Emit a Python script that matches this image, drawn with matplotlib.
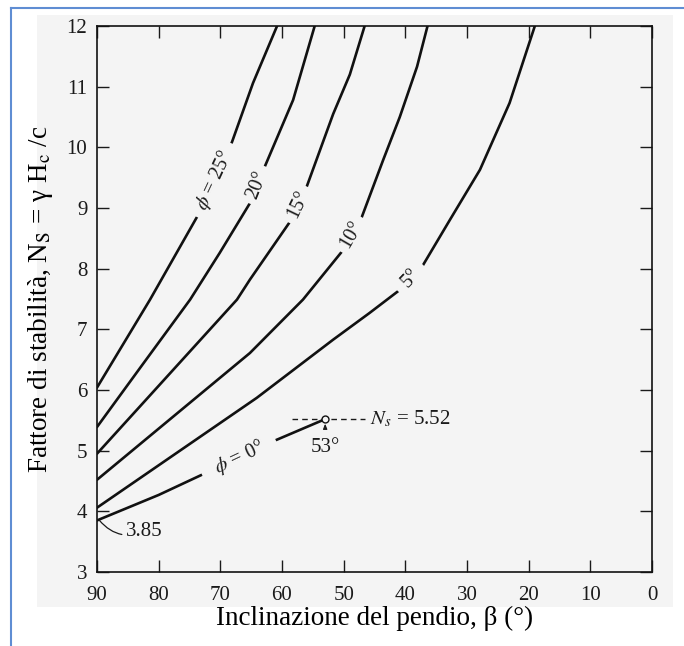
import numpy as np
import matplotlib
matplotlib.use('Agg')
import matplotlib.pyplot as plt
from matplotlib.patches import Rectangle
from matplotlib.lines import Line2D

plt.rcParams['font.family'] = ['Liberation Serif', 'DejaVu Serif']
plt.rcParams['mathtext.fontset'] = 'stix'

# inclinazione beta (gradi) e numero di stabilita' Ns per ogni angolo phi
beta_0 = [90, 80, 72, 62, 53]
ns_0 = [3.85, 4.27, 4.65, 5.13, 5.52]
beta_5 = [90, 64.1, 51.7, 45.8, 40.9, 37.3, 32.8, 27.9, 23.1, 19.0]
ns_5 = [4.06, 5.87, 6.83, 7.27, 7.65, 8.03, 8.80, 9.63, 10.73, 12.0]
beta_10 = [90, 65.2, 56.6, 50.3, 47.1, 43.6, 40.9, 38.1, 36.4]
ns_10 = [4.52, 6.61, 7.49, 8.28, 8.84, 9.79, 10.5, 11.33, 12.0]
beta_15 = [90, 67.3, 65.2, 58.8, 56.0, 51.7, 49.0, 46.6]
ns_15 = [4.95, 7.49, 7.82, 8.76, 9.35, 10.55, 11.2, 12.0]
beta_20 = [90, 82.9, 74.9, 70.1, 65.2, 62.8, 58.2, 54.7]
ns_20 = [5.39, 6.38, 7.49, 8.26, 9.08, 9.68, 10.78, 12.0]
beta_25 = [90, 81.4, 73.8, 68.1, 64.7, 60.8]
ns_25 = [6.04, 7.49, 8.85, 10.09, 11.06, 12.0]

curves = [(beta_0, ns_0), (beta_5, ns_5), (beta_10, ns_10),
          (beta_15, ns_15), (beta_20, ns_20), (beta_25, ns_25)]
labels = ['$\\phi$ = 0°', '5°', '10°', '15°', '20°', '$\\phi$ = 25°']
label_beta = [67.0, 39.1, 48.7, 57.4, 64.0, 71.0]
label_pad = [0.7, 0.45, 0.3, 0.3, 0.3, 0.45]

beta_crit = 53
ns_crit = 5.52

x_ticks = [90, 80, 70, 60, 50, 40, 30, 20, 10, 0]
y_ticks = [3, 4, 5, 6, 7, 8, 9, 10, 11, 12]

bg = '#f4f4f4'
ink = '#1a1a1a'

fig = plt.figure(figsize=(6.84, 6.46), dpi=100)
W, H = 684, 646

# fondo grigio della scansione e cornice blu
fig.patches.append(Rectangle((37 / W, 1 - 607 / H), (673 - 37) / W, (607 - 15) / H,
                             transform=fig.transFigure, facecolor=bg, edgecolor='none', zorder=-10))
fig.lines.append(Line2D([10.5 / W, 10.5 / W], [0, 1 - 8 / H], transform=fig.transFigure,
                        color='#5f8dd3', lw=1.5, zorder=-5))
fig.lines.append(Line2D([10.5 / W, 1], [1 - 8 / H, 1 - 8 / H], transform=fig.transFigure,
                        color='#5f8dd3', lw=1.5, zorder=-5))

ax = fig.add_axes([97 / W, 1 - 572 / H, (652 - 97) / W, (572 - 26) / H])
ax.set_zorder(1)
ax.set_facecolor('none')
ax.set_xlim(90, 0)
ax.set_ylim(3, 12)
ax.set_xticks(x_ticks)
ax.set_yticks(y_ticks)
ax.tick_params(direction='in', length=8.5, width=1, top=True, right=True,
               labelsize=15, colors=ink)
ax.tick_params(axis='x', pad=10)
ax.tick_params(axis='y', pad=7)
for s in ax.spines.values():
    s.set_linewidth(1.2)
    s.set_color('#111111')

for (b, n) in curves:
    ax.plot(b, n, color='#111111', lw=1.9, solid_capstyle='round',
            solid_joinstyle='round', zorder=2)

# etichette lungo le curve, ruotate secondo la pendenza locale
for (b, n), txt, lb, pd in zip(curves, labels, label_beta, label_pad):
    bb = np.array(b[::-1], dtype=float)
    nn = np.array(n[::-1], dtype=float)
    y0 = np.interp(lb, bb, nn)
    p1 = ax.transData.transform((lb + 1.0, np.interp(lb + 1.0, bb, nn)))
    p2 = ax.transData.transform((lb - 1.0, np.interp(lb - 1.0, bb, nn)))
    ang = np.degrees(np.arctan2(p2[1] - p1[1], p2[0] - p1[0]))
    ax.text(lb, y0, txt, rotation=ang, rotation_mode='anchor', ha='center', va='center',
            fontsize=14.5, color=ink, zorder=3,
            bbox=dict(boxstyle='square,pad=%.2f' % pd, facecolor=bg, edgecolor='none'))

# punto critico phi = 0
ax.plot([58.3, 46.5], [ns_crit, ns_crit], color=ink, lw=1, ls=(0, (4, 3)), zorder=2)
ax.plot([beta_crit], [ns_crit], marker='o', ms=5, mfc=bg, mec='#111111', mew=1, zorder=4)
ax.text(45.8, ns_crit, '$N_s$ = 5.52', ha='left', va='center', fontsize=15, color=ink)
ax.annotate('', xy=(beta_crit, ns_crit - 0.03), xytext=(beta_crit, ns_crit - 0.2),
            arrowprops=dict(arrowstyle='-|>,head_length=0.3,head_width=0.12', color=ink, lw=0.8))
ax.text(beta_crit, 5.06, '53°', ha='center', va='center', fontsize=15, color=ink)

ax.annotate('3.85', xy=(89.6, 3.85), xytext=(85.3, 3.66), ha='left', va='center',
            fontsize=15, color=ink,
            arrowprops=dict(arrowstyle='-', color=ink, lw=0.9,
                            connectionstyle='arc3,rad=-0.35', shrinkA=1, shrinkB=0))

ax.set_xlabel('Inclinazione del pendio, β (°)', fontsize=19.5, labelpad=1)
ax.set_ylabel('Fattore di stabilità, N$_{\\mathrm{S}}$ = γ H$_{\\mathrm{c}}$ /c',
              fontsize=19.5, labelpad=8)

fig.savefig('out.png', dpi=100, facecolor='white')
